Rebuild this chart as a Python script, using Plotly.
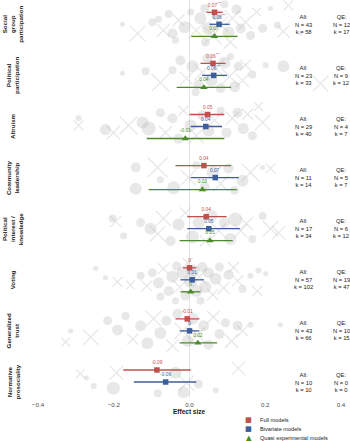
import plotly.graph_objects as go

categories = ["Social<br>group<br>participation", "Political<br>participation", "Altruism",
              "Community<br>leadership", "Political<br>interest /<br>knowledge", "Voting",
              "Generalized<br>trust", "Normative<br>prosociality"]

# pooled estimates
full_est = [0.066, 0.062, 0.048, 0.038, 0.044, 0.000, -0.006, -0.086]
full_lo = [0.045, 0.029, 0.000, -0.037, -0.006, -0.017, -0.037, -0.175]
full_hi = [0.088, 0.095, 0.092, 0.110, 0.098, 0.018, 0.026, 0.003]
full_lab = ["0.07<sup>***</sup>", "0.06<sup>***</sup>", "0.05", "0.04", "0.04", "0", "-0.01", "-0.09"]

biv_est = [0.078, 0.064, 0.043, 0.068, 0.051, 0.007, 0.000, -0.063]
biv_lo = [0.053, 0.033, 0.003, 0.003, -0.006, -0.024, -0.026, -0.147]
biv_hi = [0.106, 0.099, 0.086, 0.130, 0.133, 0.038, 0.026, 0.018]
biv_lab = ["0.08<sup>***</sup>", "0.06<sup>***</sup>", "0.04", "0.07<sup>*</sup>", "0.05", "0.01", "0", "-0.06"]

qe_est = [0.066, 0.038, -0.011, 0.034, 0.054, 0.003, 0.022]
qe_lo = [0.005, -0.034, -0.113, -0.108, -0.026, -0.024, -0.026]
qe_hi = [0.127, 0.110, 0.092, 0.125, 0.114, 0.029, 0.073]
qe_lab = ["0.07<sup>*</sup>", "0.04", "-0.01", "0.03", "0.05", "0", "0.02"]

all_n = [43, 23, 29, 11, 17, 57, 43, 10]
all_k = [58, 33, 40, 14, 34, 102, 66, 10]
qe_n = [12, 9, 4, 5, 6, 19, 10, 0]
qe_k = [17, 12, 7, 7, 12, 47, 15, 0]

# individual study estimates (est, vertical jitter, weight size, cross marker flag)
social_est = [-0.177, -0.137, -0.098, -0.082, -0.069, -0.055, -0.045, -0.029, -0.013, 0.003, 0.018, 0.029,
              0.040, 0.050, 0.061, 0.071, 0.082, 0.092, 0.103, 0.113, 0.124, 0.135, 0.148, 0.161, 0.177,
              0.193, 0.214, 0.232, 0.248, 0.261, 0.293, -0.037, 0.042, 0.108]
social_jit = [0.0, 0.18, -0.04, -0.10, 0.12, -0.20, 0.18, -0.08, 0.06, -0.24, 0.12, -0.12, -0.31, 0.08,
              0.22, -0.18, 0.0, -0.39, 0.16, -0.12, -0.29, 0.08, -0.04, 0.22, -0.24, 0.08, -0.31, 0.02,
              0.14, -0.37, 0.18, 0.31, 0.35, 0.35]
social_w = [5, 14, 8, 7, 12, 8, 10, 11, 12, 7, 15, 12, 9, 13, 16, 10, 14, 8, 12, 14, 10, 10, 12, 9, 8,
            9, 5, 7, 11, 9, 4, 7, 9, 12]
social_x = [0, 1, 0, 0, 1, 0, 0, 1, 0, 0, 1, 0, 0, 0, 1, 0, 1, 0, 0, 1, 0, 0, 1, 0, 1, 0, 0, 0, 1, 1, 0,
            0, 0, 1]

polpart_est = [-0.177, -0.116, -0.077, -0.045, -0.024, -0.008, 0.008, 0.024, 0.034, 0.047, 0.058, 0.069,
               0.082, 0.092, 0.106, 0.119, 0.129, 0.140, 0.148, 0.166, 0.201, 0.248, 0.346, 0.016, 0.108]
polpart_jit = [-0.04, -0.08, 0.14, -0.10, -0.29, 0.06, -0.18, 0.18, -0.06, -0.33, 0.10, -0.14, 0.25,
               -0.25, 0.02, 0.22, -0.18, 0.10, -0.20, -0.02, -0.20, -0.18, 0.16, 0.33, -0.37]
polpart_w = [5, 8, 16, 8, 10, 12, 12, 10, 14, 10, 12, 16, 10, 12, 14, 11, 9, 12, 10, 8, 6, 12, 14, 8, 7]
polpart_x = [0, 0, 1, 0, 0, 1, 0, 0, 1, 0, 0, 1, 0, 0, 1, 0, 0, 1, 1, 0, 0, 0, 1, 0, 0]

altruism_est = [-0.293, -0.293, -0.222, -0.201, -0.161, -0.124, -0.108, -0.077, -0.063, -0.045, -0.029,
                -0.016, 0.003, 0.018, 0.034, 0.050, 0.066, 0.082, 0.098, 0.113, 0.127, 0.142, 0.153,
                0.166, 0.193, 0.182]
altruism_jit = [-0.16, -0.02, 0.06, 0.12, -0.02, -0.08, 0.04, -0.27, 0.12, -0.16, 0.24, -0.31, -0.02,
                0.18, -0.22, 0.08, -0.12, -0.31, 0.12, -0.16, -0.27, 0.04, -0.24, 0.18, -0.08, -0.39]
altruism_w = [6, 9, 11, 12, 16, 12, 14, 9, 12, 10, 10, 9, 12, 14, 10, 12, 15, 8, 10, 12, 10, 11, 10, 9,
              14, 8]
altruism_x = [0, 1, 0, 1, 1, 0, 0, 0, 1, 0, 0, 1, 0, 1, 0, 0, 1, 0, 0, 1, 0, 0, 1, 0, 1, 1]

community_est = [-0.142, -0.142, -0.084, -0.077, -0.042, -0.003, 0.018, 0.040, 0.061, 0.082, 0.103,
                 0.119, 0.140, 0.161, 0.193, 0.214]
community_jit = [-0.20, 0.22, -0.20, 0.04, 0.20, 0.0, -0.24, 0.18, -0.10, 0.12, -0.18, 0.25, 0.06,
                 -0.10, -0.20, -0.18]
community_w = [10, 12, 18, 7, 13, 14, 8, 10, 12, 14, 10, 9, 12, 16, 5, 9]
community_x = [0, 0, 1, 0, 0, 1, 0, 0, 0, 1, 0, 0, 0, 1, 0, 1]

polint_est = [-0.203, -0.195, -0.174, -0.129, -0.103, -0.084, -0.069, -0.050, -0.029, -0.011, 0.008,
              0.024, 0.042, 0.058, 0.077, 0.092, 0.108, 0.121, 0.135, 0.150, 0.166, 0.193, 0.214, 0.235]
polint_jit = [-0.20, -0.14, 0.14, -0.12, 0.0, 0.10, -0.20, 0.24, -0.08, -0.31, 0.16, -0.12, 0.24, -0.25,
              0.04, -0.12, 0.20, -0.18, 0.04, -0.10, 0.20, -0.25, 0.0, 0.08]
polint_w = [8, 10, 7, 9, 12, 14, 14, 10, 12, 10, 13, 12, 10, 12, 14, 11, 12, 14, 12, 12, 8, 8, 14, 12]
polint_x = [0, 1, 0, 0, 0, 1, 1, 0, 0, 1, 0, 0, 1, 0, 1, 0, 0, 0, 1, 1, 0, 0, 1, 1]

voting_est = [-0.248, -0.222, -0.190, -0.156, -0.129, -0.113, -0.098, -0.082, -0.069, -0.055, -0.045,
              -0.034, -0.026, -0.018, -0.011, -0.005, 0.003, 0.011, 0.018, 0.026, 0.034, 0.042, 0.050,
              0.061, 0.069, 0.079, 0.090, 0.103, 0.116, 0.127, 0.140, 0.161, 0.179, 0.182, 0.201,
              -0.037, 0.029, -0.077]
voting_jit = [-0.22, -0.04, 0.04, 0.10, -0.08, 0.12, -0.14, 0.06, -0.22, 0.22, -0.06, -0.27, 0.14, -0.14,
              0.31, -0.33, 0.02, -0.18, 0.22, -0.06, -0.25, 0.14, -0.14, 0.29, -0.02, -0.25, 0.16, -0.10,
              -0.24, 0.02, 0.18, -0.08, 0.22, -0.18, -0.12, 0.41, 0.41, 0.33]
voting_w = [5, 5, 9, 8, 8, 10, 9, 11, 10, 10, 12, 9, 13, 12, 10, 9, 14, 12, 12, 14, 10, 12, 11, 10, 12, 9,
            11, 10, 10, 10, 8, 6, 9, 6, 5, 7, 8, 8]
voting_x = [0, 0, 1, 1, 0, 1, 0, 0, 1, 0, 0, 0, 1, 0, 0, 1, 0, 0, 0, 1, 0, 0, 0, 1, 0, 0, 1, 0, 1, 1, 0,
            0, 1, 0, 0, 0, 0, 0]

trust_est = [-0.314, -0.327, -0.261, -0.216, -0.190, -0.169, -0.150, -0.129, -0.111, -0.095, -0.077,
             -0.061, -0.045, -0.032, -0.018, -0.005, 0.008, 0.021, 0.037, 0.050, 0.063, 0.079, 0.095,
             0.111, 0.127, 0.140, 0.161, 0.240]
trust_jit = [0.0, 0.22, 0.12, -0.20, -0.02, -0.29, 0.16, -0.10, 0.24, -0.24, 0.04, -0.20, 0.29, -0.33,
             0.0, 0.20, -0.24, 0.08, -0.10, 0.27, -0.27, 0.06, -0.16, 0.20, -0.10, 0.0, -0.12, -0.12]
trust_w = [5, 8, 14, 9, 11, 8, 10, 11, 12, 14, 12, 10, 12, 10, 15, 12, 12, 14, 11, 10, 12, 10, 9, 12,
           10, 10, 6, 5]
trust_x = [0, 1, 1, 0, 0, 0, 1, 0, 0, 1, 0, 0, 1, 0, 1, 0, 0, 1, 0, 0, 1, 0, 0, 1, 0, 1, 0, 0]

normative_est = [-0.288, -0.272, -0.253, -0.193, -0.201, -0.084, -0.037, -0.016, -0.008, 0.024, 0.129, 0.069]
normative_jit = [-0.16, -0.08, 0.08, -0.18, 0.12, 0.22, -0.18, 0.20, 0.02, 0.04, -0.27, 0.16]
normative_w = [8, 5, 6, 12, 13, 8, 12, 12, 14, 9, 12, 6]
normative_x = [1, 0, 0, 1, 0, 0, 0, 0, 1, 0, 1, 0]

studies = [
    (social_est, social_jit, social_w, social_x),
    (polpart_est, polpart_jit, polpart_w, polpart_x),
    (altruism_est, altruism_jit, altruism_w, altruism_x),
    (community_est, community_jit, community_w, community_x),
    (polint_est, polint_jit, polint_w, polint_x),
    (voting_est, voting_jit, voting_w, voting_x),
    (trust_est, trust_jit, trust_w, trust_x),
    (normative_est, normative_jit, normative_w, normative_x),
]

RED = "#C0504D"
BLUE = "#3D5E9C"
GREEN = "#4B8B2B"
FONT = "Liberation Sans, Arial, sans-serif"
ROW = 0.235

fig = go.Figure()

# background individual estimates
cx, cy, cs, xx, xy, xs = [], [], [], [], [], []
for i, (e, j, w, fl) in enumerate(studies):
    for a, b, c, d in zip(e, j, w, fl):
        if d:
            xx.append(a); xy.append(i + b); xs.append(c * 1.1)
        else:
            cx.append(a); cy.append(i + b); cs.append(c)
fig.add_trace(go.Scatter(x=cx, y=cy, mode="markers", showlegend=False, hoverinfo="skip",
                         marker=dict(size=cs, color="rgba(170,170,170,0.38)", line=dict(width=0))))
fig.add_trace(go.Scatter(x=xx, y=xy, mode="markers", showlegend=False, hoverinfo="skip",
                         marker=dict(size=xs, symbol="x-thin-open", color="rgba(175,175,175,0.45)",
                                     line=dict(width=1.2, color="rgba(175,175,175,0.45)"))))

def add_model(est, lo, hi, lab, off, color, symbol, name):
    n = len(est)
    fig.add_trace(go.Scatter(
        x=est, y=[i + off for i in range(n)], mode="markers+text", name=name,
        text=lab, textposition="top center",
        textfont=dict(size=4.8, color=color, family=FONT),
        marker=dict(size=5.5 if symbol == "square" else 6.5, symbol=symbol, color=color),
        error_x=dict(type="data", symmetric=False,
                     array=[h - e for h, e in zip(hi, est)],
                     arrayminus=[e - l for e, l in zip(est, lo)],
                     color=color, thickness=1.3, width=0),
        showlegend=False, cliponaxis=False))

add_model(full_est, full_lo, full_hi, full_lab, -ROW, RED, "square", "Full models")
add_model(biv_est, biv_lo, biv_hi, biv_lab, 0, BLUE, "square", "Bivariate models")
add_model(qe_est, qe_lo, qe_hi, qe_lab, ROW, GREEN, "triangle-up", "Quasi experimental models")

annotations = []
L, R, T, B = 26, 0, 0, 43
W = 350 - L - R
H = 441 - T - B
for i, cat in enumerate(categories):
    annotations.append(dict(x=(12.5 - L) / W, xref="paper", y=i, yref="y", text="<b>" + cat + "</b>",
                            textangle=-90, showarrow=False, xanchor="center", yanchor="middle",
                            font=dict(size=6.2, color="#1A1A1A", family=FONT)))
    annotations.append(dict(x=0.3, y=i, xref="x", yref="y", showarrow=False,
                            text="All:<br>N = %d<br>k = %d" % (all_n[i], all_k[i]),
                            font=dict(size=5.8, color="#1A1A1A", family=FONT), align="center"))
    annotations.append(dict(x=0.4, y=i, xref="x", yref="y", showarrow=False,
                            text="QE:<br>N = %d<br>k = %d" % (qe_n[i], qe_k[i]),
                            font=dict(size=5.8, color="#1A1A1A", family=FONT), align="center"))

# legend
leg = [("■", RED, "Full models"), ("■", BLUE, "Bivariate models"), ("▲", GREEN, "Quasi experimental models")]
leg_y = [419.5, 428.5, 437.5]
for (g, c, t), py in zip(leg, leg_y):
    yp = (H - (py - T)) / H
    annotations.append(dict(x=(249 - L) / W, y=yp, xref="paper", yref="paper", text=g, showarrow=False,
                            xanchor="center", yanchor="middle", font=dict(size=7.2, color=c, family="DejaVu Sans")))
    annotations.append(dict(x=(258 - L) / W, y=yp, xref="paper", yref="paper", text=t, showarrow=False,
                            xanchor="left", yanchor="middle", font=dict(size=5.6, color="#1A1A1A", family=FONT)))

# axis title
annotations.append(dict(x=0.0, xref="x", y=(H - (411 - T)) / H, yref="paper", text="<b>Effect size</b>",
                        showarrow=False, xanchor="center", yanchor="middle",
                        font=dict(size=6.5, color="#1A1A1A", family=FONT)))

px_per = 378.75
x0 = -0.4 - (38 - L) / px_per
x1 = x0 + W / px_per
top_v = -24.3 / 51.1
bot_v = (H - 24.3) / 51.1

fig.update_layout(
    width=350, height=441, margin=dict(l=L, r=R, t=T, b=B),
    plot_bgcolor="white", paper_bgcolor="white",
    font=dict(family=FONT),
    xaxis=dict(range=[x0, x1], tickvals=[-0.4, -0.2, 0, 0.2, 0.4],
               ticktext=["−0.4", "−0.2", "0.0", "0.2", "0.4"],
               tickfont=dict(size=6.2, color="#4D4D4D", family=FONT),
               showgrid=False, zeroline=True, zerolinecolor="#E3E3E3", zerolinewidth=1,
               showline=False, ticks="", ticklabelstandoff=2),
    yaxis=dict(range=[bot_v, top_v], showgrid=False, zeroline=False, showticklabels=False,
               showline=False, ticks=""),
    annotations=annotations,
    showlegend=False,
)

fig.write_html("out.html", config={"displayModeBar": False},
               post_script="document.body.style.margin='0';document.body.style.overflow='hidden';")
